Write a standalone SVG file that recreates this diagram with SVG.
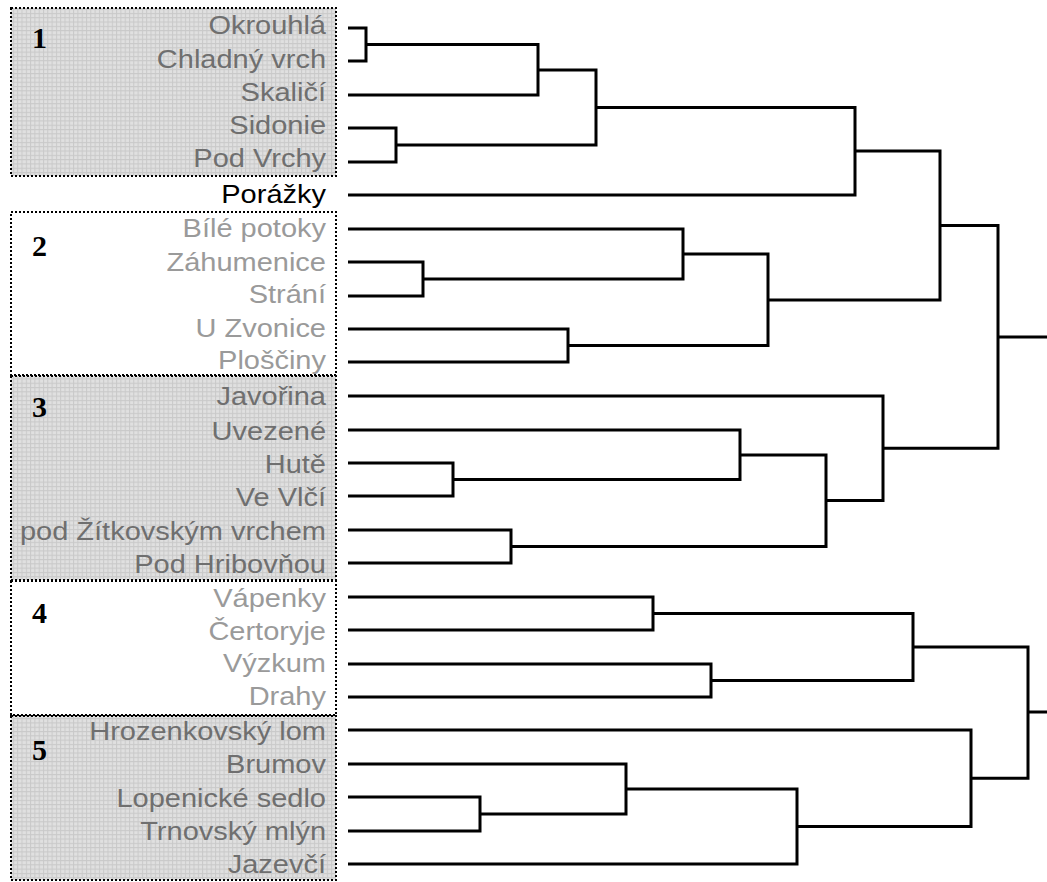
<svg xmlns="http://www.w3.org/2000/svg" width="1047" height="882" viewBox="0 0 1047 882">
<style>
.box{stroke:#000;stroke-width:2;stroke-dasharray:2 2}
.g{fill:url(#grid)}
.w{fill:#fff}
.lbl{font-family:"Liberation Sans",Arial,sans-serif;font-size:25px;text-anchor:end}
.dk{fill:#6f6f6f}
.lt{fill:#9a9a9a}
.bk{fill:#000}
.num{font-family:"Liberation Serif","Times New Roman",serif;font-size:30px;font-weight:bold;fill:#000}
.c path{fill:none;stroke:#000;stroke-width:3;stroke-linejoin:miter}
</style>
<defs>
<pattern id="grid" width="4.3" height="4.3" patternUnits="userSpaceOnUse">
<rect width="4.3" height="4.3" fill="#e0e0e0"/>
<path d="M0 0.5H4.3M0.5 0V4.3" stroke="#c9c9c9" stroke-width="1" fill="none"/>
</pattern>
</defs>
<rect width="1047" height="882" fill="#fff"/>
<g id="cluster1">
<rect class="box g" x="11" y="8" width="325" height="168"/>
<text class="num" x="32" y="48">1</text>
<text class="lbl dk" transform="translate(326 34) scale(1.16 1)">Okrouhlá</text>
<text class="lbl dk" transform="translate(326 68) scale(1.16 1)">Chladný vrch</text>
<text class="lbl dk" transform="translate(326 101) scale(1.16 1)">Skaličí</text>
<text class="lbl dk" transform="translate(326 134) scale(1.16 1)">Sidonie</text>
<text class="lbl dk" transform="translate(326 167) scale(1.16 1)">Pod Vrchy</text>
</g>
<g id="leaf-porazky">
<text class="lbl bk" transform="translate(326 203) scale(1.16 1)">Porážky</text>
</g>
<g id="cluster2">
<rect class="box w" x="11" y="212" width="325" height="163"/>
<text class="num" x="32" y="256">2</text>
<text class="lbl lt" transform="translate(326 237) scale(1.16 1)">Bílé potoky</text>
<text class="lbl lt" transform="translate(326 271) scale(1.16 1)">Záhumenice</text>
<text class="lbl lt" transform="translate(326 303) scale(1.16 1)">Strání</text>
<text class="lbl lt" transform="translate(326 337) scale(1.16 1)">U Zvonice</text>
<text class="lbl lt" transform="translate(326 369) scale(1.16 1)">Ploščiny</text>
</g>
<g id="cluster3">
<rect class="box g" x="11" y="376" width="325" height="204"/>
<text class="num" x="32" y="417">3</text>
<text class="lbl dk" transform="translate(326 405) scale(1.16 1)">Javořina</text>
<text class="lbl dk" transform="translate(326 440) scale(1.16 1)">Uvezené</text>
<text class="lbl dk" transform="translate(326 473) scale(1.16 1)">Hutě</text>
<text class="lbl dk" transform="translate(326 506) scale(1.16 1)">Ve Vlčí</text>
<text class="lbl dk" transform="translate(326 540) scale(1.16 1)">pod Žítkovským vrchem</text>
<text class="lbl dk" transform="translate(326 573) scale(1.16 1)">Pod Hribovňou</text>
</g>
<g id="cluster4">
<rect class="box w" x="11" y="581" width="325" height="134"/>
<text class="num" x="32" y="623">4</text>
<text class="lbl lt" transform="translate(326 607) scale(1.16 1)">Vápenky</text>
<text class="lbl lt" transform="translate(326 640) scale(1.16 1)">Čertoryje</text>
<text class="lbl lt" transform="translate(326 672) scale(1.16 1)">Výzkum</text>
<text class="lbl lt" transform="translate(326 705) scale(1.16 1)">Drahy</text>
</g>
<g id="cluster5">
<rect class="box g" x="11" y="716" width="325" height="164"/>
<text class="num" x="32" y="760">5</text>
<text class="lbl dk" transform="translate(326 740) scale(1.16 1)">Hrozenkovský lom</text>
<text class="lbl dk" transform="translate(326 773) scale(1.16 1)">Brumov</text>
<text class="lbl dk" transform="translate(326 807) scale(1.16 1)">Lopenické sedlo</text>
<text class="lbl dk" transform="translate(326 840) scale(1.16 1)">Trnovský mlýn</text>
<text class="lbl dk" transform="translate(326 873) scale(1.16 1)">Jazevčí</text>
</g>
<g id="connectors" class="c">
<path d="M348 28H366V61H348"/>
<path d="M366 44.5H538V95H348"/>
<path d="M348 128H396V162H348"/>
<path d="M538 70H596V145H396"/>
<path d="M596 107.5H855V195H348"/>
<path d="M348 262H423V296H348"/>
<path d="M348 229H683V279H423"/>
<path d="M348 329H568V362H348"/>
<path d="M683 254H768V345.5H568"/>
<path d="M855 151H940V300H768"/>
<path d="M348 463H453V496H348"/>
<path d="M348 430H740V479.5H453"/>
<path d="M348 530H511V563H348"/>
<path d="M740 455H826V546.5H511"/>
<path d="M348 396H883V500.5H826"/>
<path d="M940 225.5H998V448.3H883"/>
<path d="M998 337H1047"/>
<path d="M348 597H653V630H348"/>
<path d="M348 664H711V697H348"/>
<path d="M653 613.5H913V680.5H711"/>
<path d="M348 797H480V831H348"/>
<path d="M348 764H626V814H480"/>
<path d="M626 789H797V864H348"/>
<path d="M348 730H971V826.5H797"/>
<path d="M913 647H1028V778.3H971"/>
<path d="M1028 712H1047"/>
</g>
</svg>
